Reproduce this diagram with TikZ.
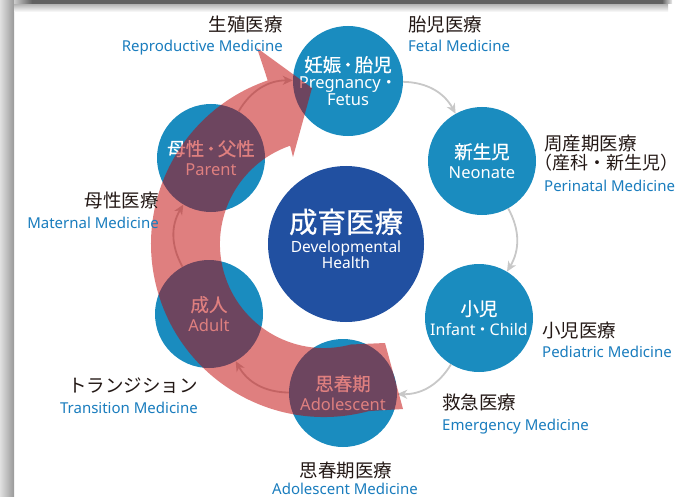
\documentclass[tikz,border=0pt]{standalone}
\usepackage{fontspec}
\setmainfont{Noto Sans}
\newfontfamily\jp{Noto Sans CJK JP}
\newfontfamily\jpb[FakeBold=0.6]{Noto Sans CJK JP}
\usetikzlibrary{arrows.meta}
\definecolor{cblue}{RGB}{26,140,191}
\definecolor{cdark}{RGB}{33,80,161}
\definecolor{lblue}{RGB}{26,125,190}
\definecolor{ltext}{RGB}{35,24,21}
\definecolor{conn}{RGB}{200,200,200}
\definecolor{bandred}{RGB}{192,0,0}
\newcommand\jbig[1]{{\jpb\fontsize{18.5}{20}\selectfont #1}}
\newcommand\jdot{{\jp ・}}
\newcommand\jtight{\kern-2.5pt・\kern-2.5pt}
\begin{document}
\begin{tikzpicture}[x=1pt,y=1pt,
  stage/.style={circle, fill=cblue, minimum size=108pt, inner sep=0pt, text=white, align=center, font=\fontsize{16.5}{20}\selectfont},
  hub/.style={circle, fill=cdark, minimum size=156pt, inner sep=0pt, text=white, align=center, font=\fontsize{15.5}{20}\selectfont},
  link/.style={draw=conn, line width=1.8pt, -{Stealth[length=10pt,width=9pt,inset=3pt]}},
  jpl/.style={inner sep=0pt, text=ltext, font=\jp\fontsize{18.5}{20}\selectfont},
  enl/.style={inner sep=0pt, text=lblue, font=\fontsize{15}{18}\selectfont},
]
\useasboundingbox (0,0) rectangle (679,-497);
\fill[white] (0,0) rectangle (679,-497);
% frame shadow
\shade[left color=black!12, right color=black!40] (0,0) rectangle (14,-497);
\shade[top color=black!30, bottom color=white] (14,-4) rectangle (668,-12);
\fill[black!62] (32,0) rectangle (662,-4);
\shade[left color=black!20, right color=black!62] (14,0) rectangle (32,-4);
\shade[left color=black!62, right color=black!8] (662,0) rectangle (672,-4);

% stage circles
\node[stage] (fetus) at (348,-81) {\jbig{妊娠\jtight 胎児}\\[-3pt]Pregnancy\jdot\\[-3pt]Fetus};
\node[stage] (neonate) at (482,-161) {\jbig{新生児}\\Neonate};
\node[stage] (infant) at (479,-318) {\jbig{小児}\\{\fontsize{16}{20}\selectfont Infant{\jp\kern-1pt・\kern-1pt}Child}};
\node[stage] (adol) at (343,-393) {\jbig{思春期}\\Adolescent};
\node[stage] (adult) at (209,-314) {\jbig{成人}\\Adult};
\node[stage] (parent) at (211,-158) {\jbig{母性\jtight 父性}\\Parent};
\node[hub] (hub) at (346,-244) {{\jpb\fontsize{28.5}{30}\selectfont 成育医療}\\Developmental\\[-4.4pt]Health\rule[-11pt]{0pt}{0pt}};

% connectors
\draw[link] (fetus) to[bend left=30] (neonate);
\draw[link] (neonate) to[bend left=30] (infant);
\draw[link] (infant) to[bend left=30] (adol);
\draw[link] (adol) to[bend left=30] (adult);
\draw[link] (adult) to[bend left=30] (parent);
\draw[link] (parent) to[bend left=30] (fetus);

% big translucent arrow
\fill[bandred, fill opacity=0.5] (403,-409) -- (368.8,-411.1)
  arc[start angle=-75, end angle=-251, radius=173]
  -- (257,-48) -- (312,-88) -- (293,-157) -- (290.1,-145.7)
  arc[start angle=109, end angle=285, radius=104]
  -- (385,-343) -- cycle;

% labels
\node[jpl, anchor=base east] (repj) at (283,-32) {生殖医療};
\node[enl, anchor=base east] (repe) at (283,-51.5) {Reproductive Medicine};
\node[jpl, anchor=base west] (fetj) at (408,-32) {胎児医療};
\node[enl, anchor=base west] (fete) at (408,-52) {Fetal Medicine};
\node[jpl, anchor=base west] (perj) at (544,-151) {周産期医療};
\node[jpl, anchor=base west, font=\jp\fontsize{18}{20}\selectfont] (perk) at (534,-169) {（産科・新生児）};
\node[enl, anchor=base west] (pere) at (544,-191) {Perinatal Medicine};
\node[jpl, anchor=base west] (pedj) at (542,-337) {小児医療};
\node[enl, anchor=base west] (pede) at (542,-357) {Pediatric Medicine};
\node[jpl, anchor=base west] (emej) at (442,-409) {救急医療};
\node[enl, anchor=base west] (emee) at (442,-430) {Emergency Medicine};
\node[jpl, anchor=base] (adoj) at (346,-477) {思春期医療};
\node[enl, anchor=base] (adoe) at (345,-494) {Adolescent Medicine};
\node[jpl, anchor=base east] (traj) at (198,-392) {トランジション};
\node[enl, anchor=base east] (trae) at (198,-413) {Transition Medicine};
\node[jpl, anchor=base east] (matj) at (159,-207) {母性医療};
\node[enl, anchor=base east] (mate) at (159,-228) {Maternal Medicine};
\end{tikzpicture}
\end{document}
